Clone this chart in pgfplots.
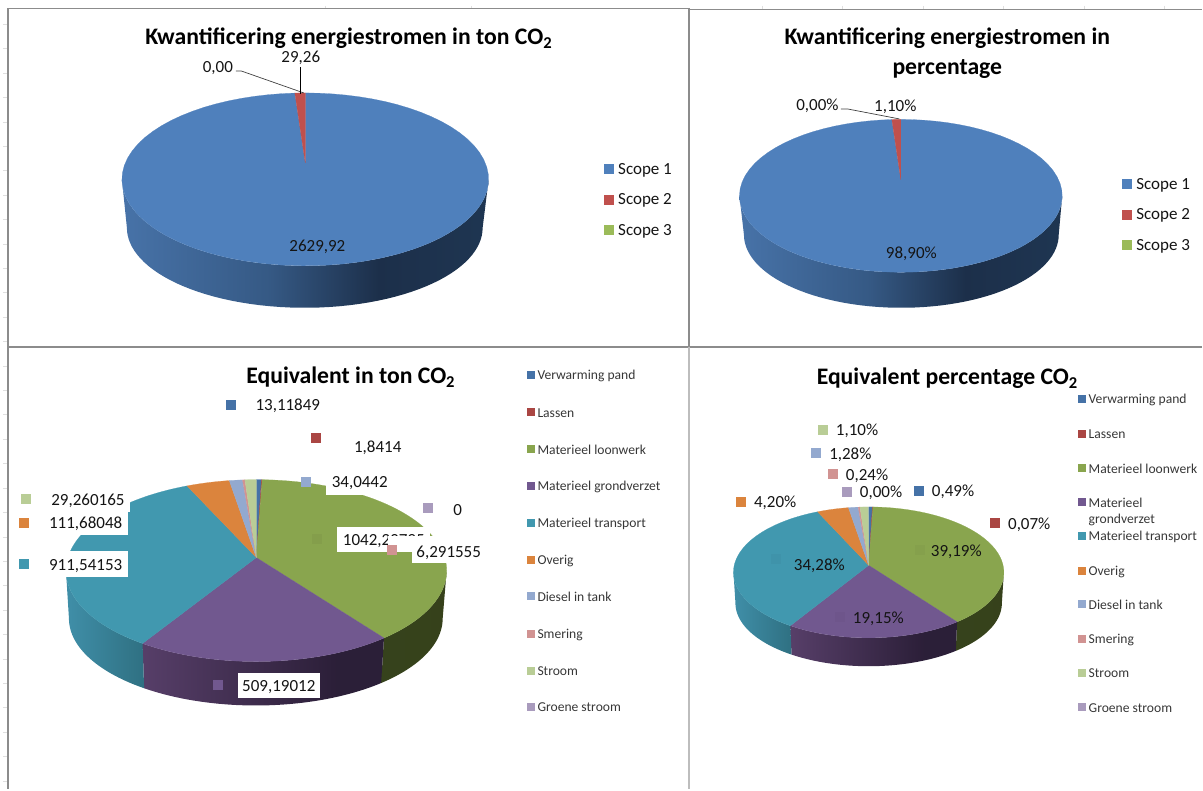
\documentclass[border=0pt]{standalone}
\usepackage{pgfplots}
\pgfplotsset{compat=1.18}
\usepackage{fontspec}
\setmainfont{Carlito}
\definecolor{cBlue}{HTML}{4F80BC}
\definecolor{cRed}{HTML}{C0504D}
\definecolor{cGreen}{HTML}{9BBB59}
\definecolor{dBlue}{HTML}{4572A7}
\definecolor{dRed}{HTML}{AA4643}
\definecolor{dGreen}{HTML}{89A54E}
\definecolor{dPurple}{HTML}{71588F}
\definecolor{dTeal}{HTML}{4198AF}
\definecolor{dOrange}{HTML}{DB843D}
\definecolor{dLBlue}{HTML}{93A9CF}
\definecolor{dPink}{HTML}{D19392}
\definecolor{dLGreen}{HTML}{B9CD96}
\definecolor{dLilac}{HTML}{A99BBD}
\definecolor{frameA}{HTML}{8C8C8C}
\definecolor{frameB}{HTML}{BDBDBD}
\definecolor{txt}{HTML}{141414}
% shadings of the pie walls, named side<colour of the slice>
\pgfdeclarehorizontalshading{sidecBlue}{100bp}{rgb(0bp)=(0.28,0.45,0.66); rgb(25bp)=(0.28,0.45,0.66); rgb(45bp)=(0.21,0.35,0.52); rgb(60bp)=(0.11,0.185,0.29); rgb(75bp)=(0.12,0.21,0.32); rgb(100bp)=(0.12,0.21,0.32)}
\pgfdeclarehorizontalshading{sidecRed}{100bp}{rgb(0bp)=(0.4,0.15,0.15); rgb(100bp)=(0.4,0.15,0.15)}
\pgfdeclarehorizontalshading{sidedGreen}{100bp}{rgb(0bp)=(0.21,0.26,0.11); rgb(100bp)=(0.21,0.255,0.105)}
\pgfdeclarehorizontalshading{sidedPurple}{100bp}{rgb(0bp)=(0.34,0.245,0.41); rgb(25bp)=(0.34,0.245,0.41); rgb(65bp)=(0.17,0.12,0.22); rgb(100bp)=(0.17,0.12,0.22)}
\pgfdeclarehorizontalshading{sidedTeal}{100bp}{rgb(0bp)=(0.25,0.56,0.66); rgb(25bp)=(0.25,0.56,0.66); rgb(75bp)=(0.185,0.44,0.51); rgb(100bp)=(0.185,0.44,0.51)}
% pie geometry: top and bottom ellipse, k = perspective shift of the pie's centre
\newcommand\setpie[9]{\def\PX{#1}\def\PY{#2}\def\PRX{#3}\def\PRY{#4}\def\PK{#5}%
  \def\PXB{#6}\def\PYB{#7}\def\PRXB{#8}\def\PRYB{#9}%
  \pgfmathsetmacro\PQ{sqrt(1-\PK*\PK)}%
  \pgfmathsetmacro\PAY{\PY-\PRY*\PK}%
  \pgfmathsetmacro\PTL{acos(-\PK)}%
  \pgfmathsetmacro\PTH{360-\PTL}%
  \def\PCUM{0}}
\def\EX#1#2#3{(#2+#3*\PQ*sin(#1)/(1+\PK*cos(#1)))}
\def\EY#1#2#3{(#2+#3*(-cos(#1)-\PK)/(1+\PK*cos(#1)))}
% one slice: value, colour; \PTOT is the pie's total
\newcommand\pieslice[2]{%
  \pgfmathsetmacro\SA{\PCUM/\PTOT*360}%
  \pgfmathsetmacro\PCUM{\PCUM+#1}%
  \pgfmathsetmacro\SB{\PCUM/\PTOT*360}%
  \pgfmathsetmacro\SL{max(\SA,\PTL)}%
  \pgfmathsetmacro\SH{min(\SB,\PTH)}%
  \pgfmathparse{\SH>\SL+0.01?1:0}%
  \ifnum\pgfmathresult>0\relax
    \edef\tmp{\noexpand\addplot[forget plot,draw=none,shade,shading=side#2,domain=0:2,samples=121]
      ({ifthenelse(x<=1.001,\EX{(\SL+(\SH-\SL)*x)}{\PX}{\PRX},\EX{(\SH-(\SH-\SL)*max(x-1.0167,0)/0.9833)}{\PXB}{\PRXB})},
       {ifthenelse(x<=1.001,\EY{(\SL+(\SH-\SL)*x)}{\PY}{\PRY},\EY{(\SH-(\SH-\SL)*max(x-1.0167,0)/0.9833)}{\PYB}{\PRYB})}) -- cycle;}\tmp
  \fi
  \pgfmathparse{\SB>\SA+0.001?1:0}%
  \ifnum\pgfmathresult>0\relax
    \edef\tmp{\noexpand\addplot[forget plot,fill=#2,draw=#2,line width=0.2pt,domain=\SA:\SB,samples=70]
      ({\EX{x}{\PX}{\PRX}},{\EY{x}{\PY}{\PRY}}) -- (axis cs:\PX,\PAY) -- cycle;}\tmp
  \fi}
\newcommand\sq[4]{\addplot[forget plot,only marks,mark=square*,mark size=#1,color=#2] coordinates {(#3,#4)};}
\newcommand\lab[3]{\node[inner sep=0pt,yshift=-1.3pt,text=txt,font=\fontsize{17}{18}\selectfont] at (axis cs:#1,#2) {#3};}
\newcommand\leg[3]{\node[anchor=west,inner sep=0pt,yshift=-1.3pt,text=txt,font=\fontsize{17}{18}\selectfont] at (axis cs:#1,#2) {#3};}
\newcommand\legs[3]{\node[anchor=west,inner sep=0pt,yshift=-1pt,text=txt!85,font=\fontsize{13.6}{15}\selectfont] at (axis cs:#1,#2) {#3};}
\newcommand\ttl[3]{\node[inner sep=0pt,yshift=-1.6pt,text=black,font=\fontsize{23.7}{28}\bfseries\selectfont] at (axis cs:#1,#2) {#3};}
\newcommand\wbox[4]{\fill[white] (axis cs:#1,#2) rectangle (axis cs:#3,#4);}
\begin{document}
\begin{tikzpicture}
\begin{axis}[width=1203pt,height=790pt,scale only axis,xmin=0,xmax=1203,ymin=0,ymax=790,y dir=reverse,hide axis,clip=false]
\path (axis cs:0,0) rectangle (axis cs:1203,790);
% sheet grid remnants
\foreach \n in {1,...,32}{\edef\tmp{\noexpand\draw[gray!25,line width=0.7pt] (axis cs:3,{24.42*\n}) -- (axis cs:8,{24.42*\n});}\tmp}
\foreach \xx in {326,472,763,843,924,1004,1085,1165}{\edef\tmp{\noexpand\draw[gray!25,line width=0.7pt] (axis cs:\xx,6) -- (axis cs:\xx,9);}\tmp}
% frames
\draw[frameA,line width=1.5pt] (axis cs:8,347.5) -- (axis cs:8,8.5) -- (axis cs:690,8.5);
\draw[frameA,line width=1.5pt] (axis cs:690,9.5) -- (axis cs:1203,9.5);
\draw[frameA,line width=1.8pt] (axis cs:8,347.5) -- (axis cs:1203,347.5);
\draw[frameA,line width=1.4pt] (axis cs:689.6,8) -- (axis cs:689.6,347);
\draw[frameB,line width=1.4pt] (axis cs:689.6,347) -- (axis cs:689.6,790);
\draw[frameA,line width=1.2pt] (axis cs:8,347) -- (axis cs:8,790);

% ---- Kwantificering in ton
\setpie{305.5}{179.5}{183.5}{86.5}{0.19}{305}{228}{178}{80}
\def\PTOT{2659.18}
\pieslice{2629.92}{cBlue}
\pieslice{29.26}{cRed}
\pieslice{0}{cGreen}
\ttl{349}{37}{Kwantificering energiestromen in ton CO\textsubscript{2}}
\draw[black!75,line width=0.7pt] (axis cs:236,71) -- (axis cs:241.4,71) -- (axis cs:304,93);
\draw[black,line width=0.7pt] (axis cs:301,67) -- (axis cs:301,94);
\lab{218}{67}{0,00}
\lab{301}{57}{29,26}
\lab{317.6}{246}{2629,92}
\sq{4.5}{cBlue}{609.5}{169}\leg{618.5}{169}{Scope 1}
\sq{4.5}{cRed}{609.5}{199.5}\leg{618.5}{199.5}{Scope 2}
\sq{4.5}{cGreen}{609.5}{230}\leg{618.5}{230}{Scope 3}

% ---- Kwantificering in percentage
\setpie{901.5}{196}{161.5}{76.5}{0.21}{902}{235}{157.5}{73}
\def\PTOT{100}
\pieslice{98.90}{cBlue}
\pieslice{1.10}{cRed}
\pieslice{0}{cGreen}
\ttl{948}{37}{Kwantificering energiestromen in}
\ttl{948}{67}{percentage}
\draw[black!75,line width=0.7pt] (axis cs:841.5,109) -- (axis cs:848,109) -- (axis cs:900,119);
\lab{818}{105}{0,00\%}
\lab{896}{106}{1,10\%}
\lab{912}{253}{98,90\%}
\sq{4.5}{cBlue}{1128}{184}\leg{1137}{184}{Scope 1}
\sq{4.5}{cRed}{1128}{214.6}\leg{1137}{214.6}{Scope 2}
\sq{4.5}{cGreen}{1128}{245}\leg{1137}{245}{Scope 3}

% ---- Equivalent in ton
\setpie{256.5}{571}{190.5}{91}{0.143}{256}{619}{187}{87}
\def\PTOT{2659.1764}
\pieslice{13.11849}{dBlue}
\pieslice{1.8414}{dRed}
\pieslice{1042.20795}{dGreen}
\pieslice{509.19012}{dPurple}
\pieslice{911.54153}{dTeal}
\pieslice{111.68048}{dOrange}
\pieslice{34.0442}{dLBlue}
\pieslice{6.291555}{dPink}
\pieslice{29.260165}{dLGreen}
\pieslice{0}{dLilac}
\ttl{351}{376}{Equivalent in ton CO\textsubscript{2}}
\sq{4.5}{dBlue}{230.7}{405}\lab{288}{405}{13,11849}
\sq{4.5}{dRed}{315.7}{438}\lab{378}{447}{1,8414}
\wbox{326}{470}{394}{495}
\sq{4.5}{dLBlue}{306}{482}\lab{360}{482}{34,0442}
\sq{4.5}{dLilac}{428}{508}\lab{458}{509}{0}
\sq{4.5}{dGreen!96!black}{317}{539}
\wbox{337}{527}{430}{552}
\node[anchor=west,inner sep=0pt,yshift=-1.3pt,text=txt,font=\fontsize{17}{18}\selectfont] at (axis cs:343,540) {1042,20795};
\wbox{388}{536}{482}{552}
\wbox{412}{543}{482}{563}
\sq{4.5}{dPink}{392}{550}\lab{449}{552}{6,291555}
\wbox{40}{493}{130}{512}
\sq{4.5}{dLGreen}{26}{499}\lab{88}{500}{29,260165}
\wbox{40}{512}{128}{535}
\sq{4.5}{dOrange}{24}{522.7}\lab{85.7}{523}{111,68048}
\wbox{40}{551.7}{128}{577.7}
\sq{4.5}{dTeal}{24}{564}\lab{85.7}{565}{911,54153}
\wbox{237.7}{673}{320.7}{699}
\sq{4.5}{dPurple}{218}{685.3}\lab{279}{686}{509,19012}
\sq{3.5}{dBlue}{530.7}{375}\legs{537.7}{375}{Verwarming pand}
\sq{3.5}{dRed}{530.7}{412}\legs{537.7}{412}{Lassen}
\sq{3.5}{dGreen}{530.7}{449}\legs{537.7}{449}{Materieel loonwerk}
\sq{3.5}{dPurple}{530.7}{486}\legs{537.7}{486}{Materieel grondverzet}
\sq{3.5}{dTeal}{530.7}{523}\legs{537.7}{523}{Materieel transport}
\sq{3.5}{dOrange}{530.7}{560}\legs{537.7}{560}{Overig}
\sq{3.5}{dLBlue}{530.7}{596.5}\legs{537.7}{596.5}{Diesel in tank}
\sq{3.5}{dPink}{530.7}{634}\legs{537.7}{634}{Smering}
\sq{3.5}{dLGreen}{530.7}{671}\legs{537.7}{671}{Stroom}
\sq{3.5}{dLilac}{530.7}{707}\legs{537.7}{707}{Groene stroom}

% ---- Equivalent percentage
\setpie{869.3}{572.8}{135.3}{65.5}{0.108}{869.3}{603.7}{133.3}{63}
\def\PTOT{100.04}
\pieslice{0.49}{dBlue}
\pieslice{0.07}{dRed}
\pieslice{39.19}{dGreen}
\pieslice{19.15}{dPurple}
\pieslice{34.28}{dTeal}
\pieslice{4.20}{dOrange}
\pieslice{1.28}{dLBlue}
\pieslice{0.24}{dPink}
\pieslice{1.10}{dLGreen}
\pieslice{0.00}{dLilac}
\ttl{948}{377}{Equivalent percentage CO\textsubscript{2}}
\sq{4.5}{dLGreen}{823}{429.7}\lab{857.7}{430}{1,10\%}
\sq{4.5}{dLBlue}{816.7}{453.3}\lab{851}{454}{1,28\%}
\sq{4.5}{dPink}{833}{473.7}\lab{867.7}{475}{0,24\%}
\sq{4.5}{dLilac}{847.3}{492}\lab{881.7}{492}{0,00\%}
\sq{4.5}{dBlue}{919.7}{491}\lab{953.8}{491}{0,49\%}
\sq{4.5}{dRed}{995.7}{523.3}\lab{1030}{524}{0,07\%}
\sq{4.5}{dOrange}{741.7}{502}\lab{775.8}{502}{4,20\%}
\sq{4.5}{dTeal!97!black}{776}{559}\lab{820}{565}{34,28\%}
\sq{4.5}{dGreen!97!black}{920}{550}\lab{957}{551}{39,19\%}
\sq{4.5}{dPurple!97!black}{840}{616.7}\lab{879}{618}{19,15\%}
\sq{3.5}{dBlue}{1082.3}{399}\legs{1089.3}{399}{Verwarming pand}
\sq{3.5}{dRed}{1082.3}{433.7}\legs{1089.3}{433.7}{Lassen}
\sq{3.5}{dGreen}{1082.3}{468}\legs{1089.3}{468}{Materieel loonwerk}
\sq{3.5}{dPurple}{1082.3}{501.7}\legs{1089.3}{501.7}{Materieel}
\legs{1089.3}{519}{grondverzet}
\sq{3.5}{dTeal}{1082.3}{536}\legs{1089.3}{536}{Materieel transport}
\sq{3.5}{dOrange}{1082.3}{571}\legs{1089.3}{571}{Overig}
\sq{3.5}{dLBlue}{1082.3}{604.3}\legs{1089.3}{604.3}{Diesel in tank}
\sq{3.5}{dPink}{1082.3}{639}\legs{1089.3}{639}{Smering}
\sq{3.5}{dLGreen}{1082.3}{673}\legs{1089.3}{673}{Stroom}
\sq{3.5}{dLilac}{1082.3}{707.3}\legs{1089.3}{707.3}{Groene stroom}
\end{axis}
\end{tikzpicture}
\end{document}
